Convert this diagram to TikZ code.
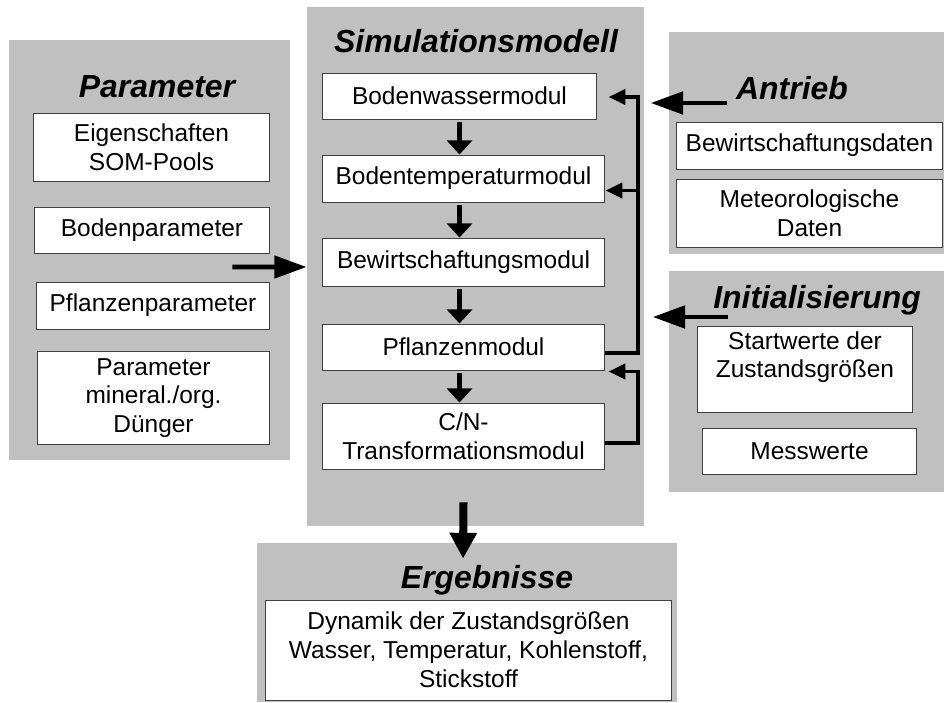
\documentclass[tikz,border=0pt]{standalone}
\usepackage{fontspec}
\setmainfont{Liberation Sans}
\usetikzlibrary{arrows.meta,calc}
\definecolor{panelgray}{RGB}{192,192,192}
\definecolor{boxline}{RGB}{64,64,64}

\begin{document}
\begin{tikzpicture}[
x=0.025cm, y=-0.025cm,
panel/.style={fill=panelgray, inner sep=0pt},
box/.style={draw=boxline, line width=0.7pt, fill=white, inner sep=0pt, align=center, font=\fontsize{17.4}{20.5}\selectfont},
title/.style={anchor=base, font=\fontsize{22.7}{26}\selectfont\bfseries\itshape},
inarrow/.style={-{Triangle[length=23pt, width=15.6pt]}, line width=3.5pt},
steparrow/.style={-{Triangle[length=10pt, width=17.7pt]}, line width=4.2pt, shorten <=2pt},
outarrow/.style={-{Triangle[length=18.4pt, width=18.4pt]}, line width=5.7pt},
fbline/.style={-{Triangle[length=12pt, width=10.6pt]}, line width=2.8pt}
]
\useasboundingbox (0,0) rectangle (944,702);

% panels
\node[panel, minimum width=7.025cm, minimum height=10.5cm] (par) at (149.5,250) {};
\node[panel, minimum width=8.425cm, minimum height=12.975cm] (sim) at (475.5,266.5) {};
\node[panel, minimum width=6.875cm, minimum height=5.55cm] (antr) at (806.5,143) {};
\node[panel, minimum width=6.875cm, minimum height=5.525cm] (init) at (806.5,381.5) {};
\node[panel, minimum width=10.5cm, minimum height=3.975cm] (erg) at (467,622.5) {};

% titles
\node[title] (partitle) at (157,98) {Parameter};
\node[title] (simtitle) at (476,53) {Simulationsmodell};
\node[title] (antrtitle) at (792,100) {Antrieb};
\node[title] (inittitle) at (817,308) {Initialisierung};
\node[title] (ergtitle) at (487,588) {Ergebnisse};

% Parameter
\node[box, minimum width=5.875cm, minimum height=1.675cm] (eig) at (151.5,147.5) {Eigenschaften\\SOM-Pools};
\node[box, minimum width=5.85cm, minimum height=1.15cm] (bodpar) at (152,230) {Bodenparameter};
\node[box, minimum width=5.8cm, minimum height=1.175cm] (pflpar) at (153,305.5) {Pflanzenparameter};
\node[box, minimum width=5.775cm, minimum height=2.3cm] (dueng) at (153.5,398) {Parameter\\mineral./org.\\Dünger};

% Simulationsmodell
\node[box, minimum width=6.825cm, minimum height=1.15cm] (wasser) at (459.5,96) {Bodenwassermodul};
\node[box, minimum width=7.025cm, minimum height=1.175cm] (temp) at (463.5,178.5) {Bodentemperaturmodul};
\node[box, minimum width=7.025cm, minimum height=1.2cm] (bew) at (463.5,262) {Bewirtschaftungsmodul};
\node[box, minimum width=7.025cm, minimum height=1.15cm] (pflanz) at (463.5,347) {Pflanzenmodul};
\node[box, minimum width=7.025cm, minimum height=1.65cm] (cn) at (463.5,436) {C/N-\\Transformationsmodul};

% Antrieb
\node[box, minimum width=6.625cm, minimum height=1.175cm] (bewdat) at (809.5,145.5) {Bewirtschaftungsdaten};
\node[box, minimum width=6.625cm, minimum height=1.675cm] (meteo) at (809.5,213.5) {Meteorologische\\Daten};

% Initialisierung
\node[box, minimum width=5.35cm, minimum height=2.15cm] (start) at (805,369) {Startwerte der\\Zustandsgrößen\\\mbox{}};
\node[box, minimum width=5.325cm, minimum height=1.15cm] (mess) at (809.5,451) {Messwerte};

% Ergebnisse
\node[box, minimum width=10.125cm, minimum height=2.5cm] (dyn) at (468.5,650) {Dynamik der Zustandsgrößen\\Wasser, Temperatur, Kohlenstoff,\\Stickstoff};

% module chain
\foreach \a/\b in {wasser/temp, temp/bew, bew/pflanz, pflanz/cn}
  \draw[steparrow] (\a.south -| wasser.south) -- (\b.north -| wasser.south);

% feedback
\draw[fbline] ($(pflanz.east)+(0,6)$) -| ($(wasser.east)+(41,1)$) -- ($(wasser.east)+(12,1)$);
\draw[fbline] ($(temp.east)+(33,12)$) -- ($(temp.east)+(1,12)$);
\draw[fbline] ($(cn.east)+(0,7)$) -| ($(pflanz.south east)+(33,1)$) -- ($(pflanz.south east)+(4,1)$);

% inputs and output
\draw[inarrow] ($(par.east)+(-58,17)$) -- ($(sim.west)+(0,0.5)$);
\draw[inarrow] ($(antr.west)+(58,-40)$) -- ($(antr.west)+(-18,-40)$);
\draw[inarrow] ($(init.west)+(59,-64.5)$) -- ($(init.west)+(-16,-64.5)$);
\draw[outarrow] ($(sim.south)+(-12,-24)$) -- ($(erg.north)+(-4,16)$);
\end{tikzpicture}
\end{document}
